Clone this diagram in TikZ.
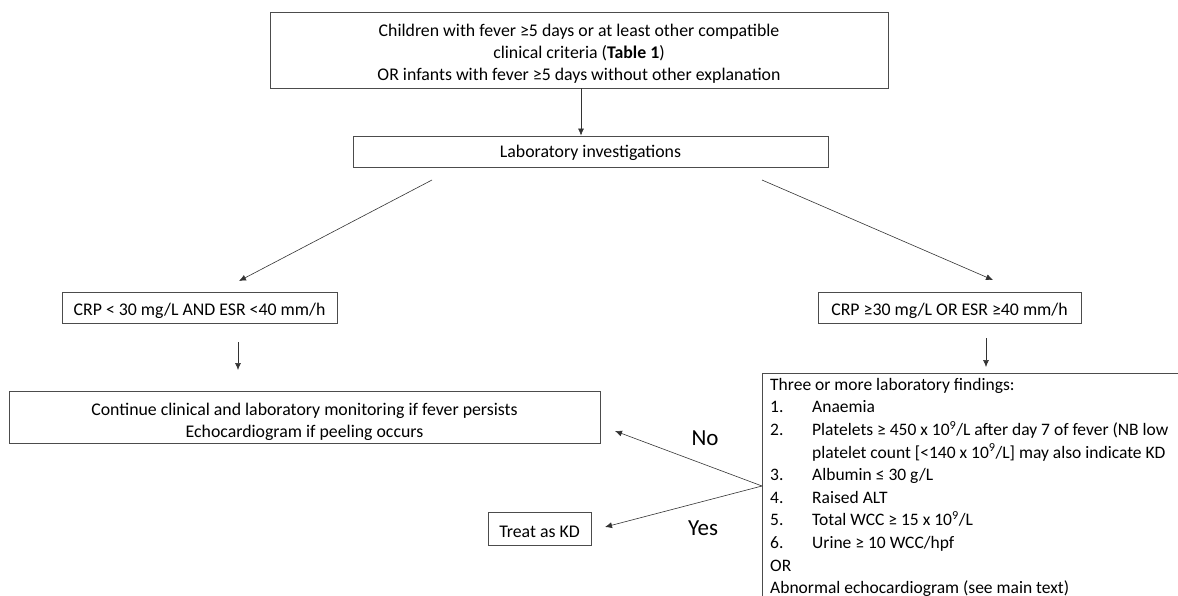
\documentclass[tikz,border=0pt]{standalone}
\usepackage{fontspec}
\setmainfont{Carlito}
\usetikzlibrary{arrows.meta}
\newcommand\mystrut{\rule{0pt}{19pt}}
\tikzset{
  box/.style={draw=black!70, line width=0.9pt, align=center, inner sep=0pt, font=\fontsize{17.8}{22}\selectfont},
  arr/.style={draw=black!80, line width=0.6pt, -{Latex[length=7pt,width=6pt]}},
  lbl/.style={font=\fontsize{23}{26}\selectfont, inner sep=0pt},
}
\begin{document}
\begin{tikzpicture}[x=1pt,y=-1pt]
\useasboundingbox (0,0) rectangle (1178,596);
\node[box, minimum width=618pt, minimum height=76pt] (top) at (579,50)
  {\mystrut Children with fever ≥5 days or at least other compatible\\clinical criteria (\textbf{Table 1})\\OR infants with fever ≥5 days without other explanation};
\node[box, minimum width=475pt, minimum height=31pt] (lab) at (590.5,151.5) {\rule{0pt}{16pt}Laboratory investigations};
\node[box, minimum width=275pt, minimum height=31pt] (crpl) at (199.5,307.5) {\mystrut CRP < 30 mg/L AND ESR <40 mm/h};
\node[box, minimum width=263pt, minimum height=31pt] (crpr) at (949.5,307.5) {\mystrut CRP ≥30 mg/L OR ESR ≥40 mm/h};
\node[box, minimum width=591pt, minimum height=52pt] (cont) at (304.5,417)
  {\rule{0pt}{22pt}Continue clinical and laboratory monitoring if fever persists\\Echocardiogram if peeling occurs};
\node[box, minimum width=103pt, minimum height=33pt] (treat) at (539.5,528.5) {\mystrut Treat as KD};
% partial box on the right
\draw[draw=black!70, line width=0.9pt] (1178,373) -- (762,373) -- (762,596);
\node[anchor=north west, inner sep=0pt, align=left, font=\fontsize{17.5}{22.6}\selectfont] (find) at (770,378)
  {Three or more laboratory findings:\\
   \makebox[42pt][l]{1.}Anaemia\\
   \makebox[42pt][l]{2.}Platelets ≥ 450 x 10\textsuperscript{9}/L after day 7 of fever (NB low\\
   \makebox[42pt][l]{}platelet count [<140 x 10\textsuperscript{9}/L] may also indicate KD\\
   \makebox[42pt][l]{3.}Albumin ≤ 30 g/L\\
   \makebox[42pt][l]{4.}Raised ALT\\
   \makebox[42pt][l]{5.}Total WCC ≥ 15 x 10\textsuperscript{9}/L\\
   \makebox[42pt][l]{6.}Urine ≥ 10 WCC/hpf\\
   OR\\
   Abnormal echocardiogram (see main text)};
\coordinate (j) at (762,486);
\coordinate (l1) at (432,180);
\coordinate (l2) at (239,281);
\coordinate (r1) at (762,180);
\coordinate (r2) at (993,280);
\coordinate (dl1) at (238,342);
\coordinate (dl2) at (238,370);
\coordinate (dr1) at (986,338);
\coordinate (dr2) at (986,367);
\coordinate (no) at (615,431);
\coordinate (yes) at (605,527);
\draw[arr] (top.south -| 581,0) -- (lab.north -| 581,0);
\draw[arr] (l1) -- (l2);
\draw[arr] (r1) -- (r2);
\draw[arr] (dl1) -- (dl2);
\draw[arr] (dr1) -- (dr2);
\draw[arr] (j) -- (no);
\draw[arr] (j) -- (yes);
\node[lbl] (nol) at (705,438) {No};
\node[lbl] (yesl) at (703,528) {Yes};
\end{tikzpicture}
\end{document}
